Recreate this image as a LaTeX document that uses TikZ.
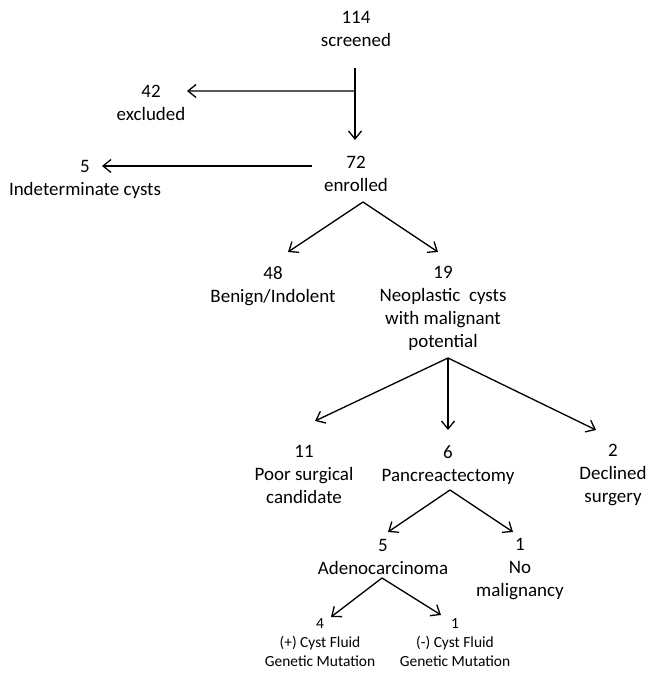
\documentclass[tikz,border=0pt]{standalone}
\usepackage{fontspec}
\setmainfont{Carlito}
\usetikzlibrary{arrows.meta,calc}

\begin{document}
\begin{tikzpicture}[
  box/.style={align=center, inner sep=0pt, anchor=north, font=\fontsize{10.8}{13}\selectfont},
  smallbox/.style={box, font=\fontsize{8.8}{10.8}\selectfont},
  arr/.style={-{Straight Barb[length=0.16cm, width=0.26cm]}, line width=0.75pt},
]
\useasboundingbox (0,0) rectangle (12.98,13.46);

% ---------- nodes ----------
\node[box] (scr) at (7.12,13.24) {114\\screened};
\node[box] (exc) at (3.02,11.76) {42\\excluded};
\node[box] (enr) at (7.12,10.34) {72\\enrolled};
\node[box] (ind) at (1.70,10.26) {5\\Indeterminate cysts};
\node[box] (ben) at (5.46,8.14) {48\\Benign/Indolent};
\node[box] (neo) at (8.86,8.14) {19\\Neoplastic~ cysts\\with malignant\\potential};
\node[box] (poor) at (6.08,4.56) {11\\Poor surgical\\candidate};
\node[box] (panc) at (8.96,4.56) {6\\Pancreactectomy};
\node[box] (decl) at (12.26,4.58) {2\\Declined\\surgery};
\node[box] (adeno) at (7.66,2.68) {5\\Adenocarcinoma};
\node[box] (nomal) at (10.40,2.70) {1\\No\\malignancy};
\node[smallbox] (pos) at (6.40,1.10) {4\\(+) Cyst Fluid\\Genetic Mutation};
\node[smallbox] (neg) at (9.10,1.10) {1\\(-) Cyst Fluid\\Genetic Mutation};

% ---------- forks ----------
\coordinate (split) at ($(scr.north)+(-0.02,-1.60)$);
\coordinate (enr-fork) at ($(enr.north)+(0.14,-0.92)$);
\coordinate (neo-fork) at ($(neo.north)+(0.10,-1.84)$);
\coordinate (panc-fork) at ($(panc.north)+(0.04,-0.90)$);
\coordinate (adeno-fork) at ($(adeno.north)+(-0.02,-0.78)$);

% ---------- arrows ----------
\draw[arr] ($(scr.north)+(-0.02,-1.14)$) -- ($(enr.north)+(-0.02,0.32)$);
\draw[arr] (split) -- ($(exc.north)+(0.72,-0.12)$);
\draw[arr] ($(enr.north)+(-0.88,-0.20)$) -- ($(ind.north)+(0.34,-0.12)$);

\draw[arr] (enr-fork) -- ($(ben.north)+(0.30,0.28)$);
\draw[arr] (enr-fork) -- ($(neo.north)+(-0.10,0.28)$);

\draw[arr] (neo-fork) -- ($(poor.north)+(0.22,0.48)$);
\draw[arr] (neo-fork) -- ($(panc.north)+(0,0.30)$);
\draw[arr] (neo-fork) -- ($(decl.north)+(-0.34,0.28)$);

\draw[arr] (panc-fork) -- ($(adeno.north)+(0.10,0.14)$);
\draw[arr] (panc-fork) -- ($(nomal.north)+(-0.14,0.12)$);

\draw[arr] (adeno-fork) -- ($(pos.north)+(0.22,0.02)$);
\draw[arr] (adeno-fork) -- ($(neg.north)+(-0.28,0.06)$);

\end{tikzpicture}
\end{document}
